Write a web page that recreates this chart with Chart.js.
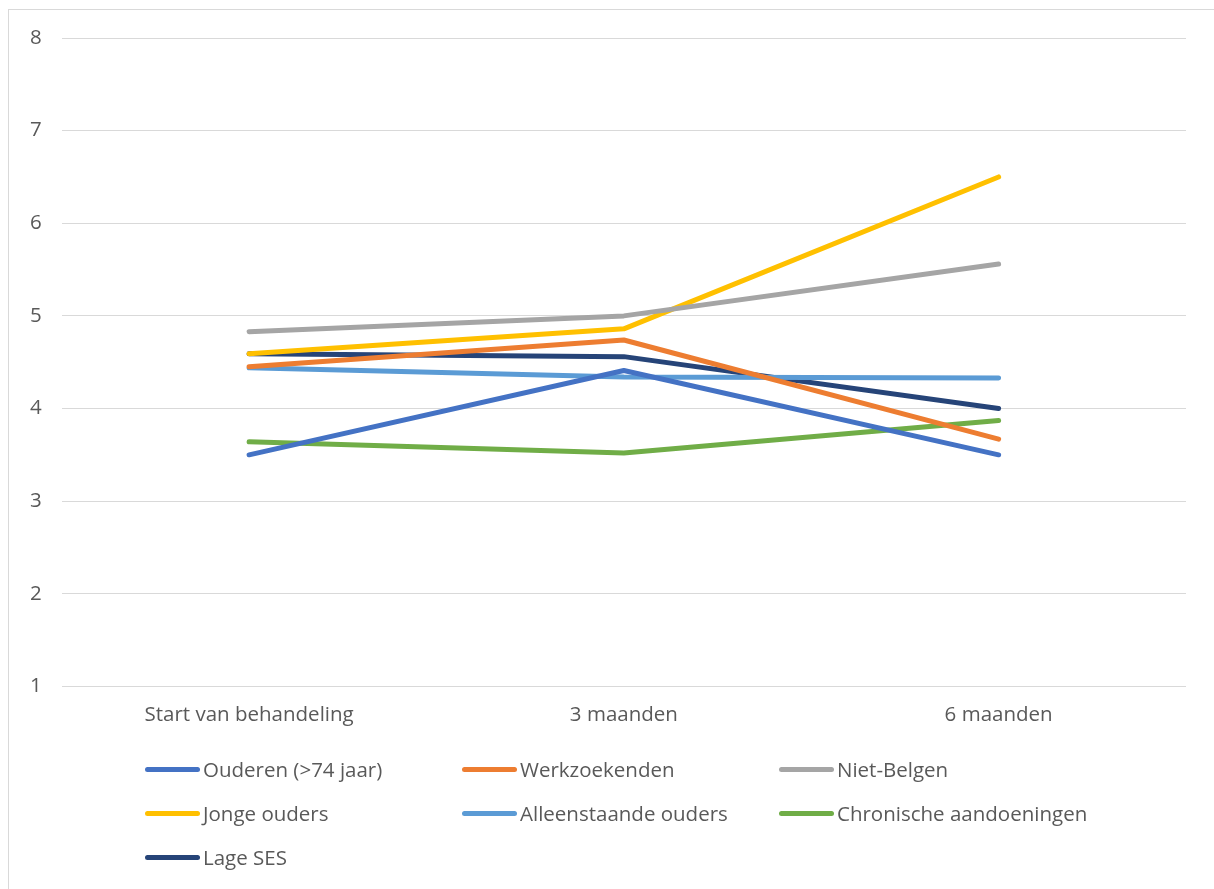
<!DOCTYPE html>
<html>
<head>
<meta charset="utf-8">
<script src="https://cdn.jsdelivr.net/npm/chart.js@4/dist/chart.umd.min.js"></script>
<style>
    html, body { margin: 0; padding: 0; background: #fff; }
    #wrap {
        position: relative;
        width: 1214px;
        height: 889px;
        overflow: hidden;
        font-family: "Open Sans", sans-serif;
    }
    #frame {
        position: absolute;
        left: 8px; top: 9px; right: -2px; bottom: -2px;
        border-left: 1px solid #d9d9d9;
        border-top: 1px solid #d9d9d9;
    }
    #chartBox { position: absolute; left: 0; top: 0; width: 1214px; height: 752px; }
    #legend {
        position: absolute;
        left: 145px; top: 747px;
        display: grid;
        grid-template-columns: 317px 317px 317px;
        grid-auto-rows: 44px;
    }
    .item { display: flex; align-items: center; height: 44px; color: #595959; font-size: 20.5px; white-space: nowrap; }
    .swatch { width: 55px; height: 5px; border-radius: 3px; margin-right: 3px; flex: none; }
</style>
</head>
<body>
<div id="wrap">
    <div id="frame"></div>
    <div id="chartBox"><canvas id="lineChart"></canvas></div>
    <div id="legend"></div>
</div>
<script>
// Categories and series
const categories = ['Start van behandeling', '3 maanden', '6 maanden'];
const seriesNames = ['Ouderen (>74 jaar)', 'Werkzoekenden', 'Niet-Belgen', 'Jonge ouders', 'Alleenstaande ouders', 'Chronische aandoeningen', 'Lage SES'];
const ouderen = [3.5, 4.41, 3.5];
const werkzoekenden = [4.45, 4.74, 3.67];
const nietBelgen = [4.83, 5.0, 5.56];
const jongeOuders = [4.59, 4.86, 6.5];
const alleenstaande = [4.44, 4.34, 4.33];
const chronisch = [3.64, 3.52, 3.87];
const lageSes = [4.59, 4.56, 4.0];
const yTicks = [1, 2, 3, 4, 5, 6, 7, 8];

const colors = ['#4472C4', '#ED7D31', '#A5A5A5', '#FFC000', '#5B9BD5', '#70AD47', '#264478'];
const values = [ouderen, werkzoekenden, nietBelgen, jongeOuders, alleenstaande, chronisch, lageSes];

const datasets = seriesNames.map((name, i) => ({
    label: name,
    data: values[i],
    borderColor: colors[i],
    backgroundColor: colors[i],
    borderWidth: 5,
    borderCapStyle: 'round',
    borderJoinStyle: 'round',
    pointRadius: 0,
    tension: 0,
    fill: false
}));

const tickFont = { family: '"Open Sans", sans-serif', size: 20.5 };

const ctx = document.getElementById('lineChart').getContext('2d');
const chart = new Chart(ctx, {
    type: 'line',
    data: { labels: categories, datasets: datasets },
    options: {
        responsive: true,
        maintainAspectRatio: false,
        animation: false,
        layout: { padding: { top: 38, left: 10, right: 28, bottom: 9 } },
        plugins: {
            legend: { display: false },
            tooltip: { enabled: false }
        },
        scales: {
            x: {
                offset: true,
                grid: { display: false, drawTicks: false },
                border: { display: false },
                ticks: { padding: 16, color: '#595959', font: tickFont }
            },
            y: {
                min: 1,
                max: 8,
                afterBuildTicks: axis => { axis.ticks = yTicks.map(v => ({ value: v })); },
                grid: { color: '#d9d9d9', lineWidth: 1, drawTicks: false },
                border: { display: false },
                ticks: { padding: 20, color: '#595959', font: tickFont }
            }
        }
    }
});

// Build the legend in three columns from the chart's datasets
const legendEl = document.getElementById('legend');
chart.data.datasets.forEach(ds => {
    const item = document.createElement('div');
    item.className = 'item';
    item.innerHTML = `<span class="swatch" style="background:${ds.borderColor}"></span><span>${ds.label.replace('>', '&gt;')}</span>`;
    legendEl.appendChild(item);
});
</script>
</body>
</html>
